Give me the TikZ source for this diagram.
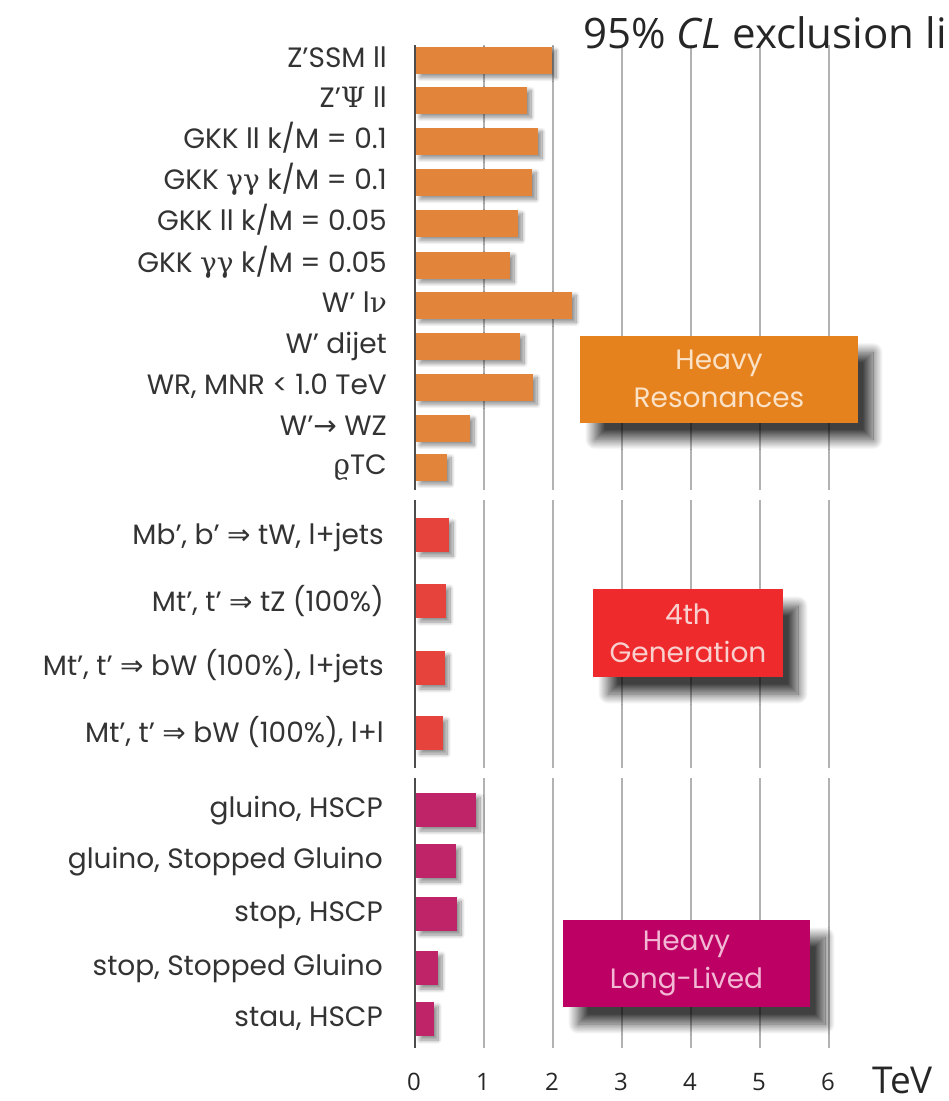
\documentclass[tikz,border=0pt]{standalone}
\usepackage{fontspec}
\setmainfont{Poppins}
\newfontfamily\grk{DejaVu Serif}
\newfontfamily\sym{DejaVu Sans}
\newfontfamily\ttlfont{Open Sans}
\usetikzlibrary{shadows.blur}
\definecolor{labgray}{HTML}{333333}
\definecolor{orbar}{HTML}{E2853A}
\definecolor{rdbar}{HTML}{E6433C}
\definecolor{mgbar}{HTML}{C02468}
\definecolor{orbox}{HTML}{E5821E}
\definecolor{rdbox}{HTML}{EE2A2C}
\definecolor{mgbox}{HTML}{BD0064}
\definecolor{ortxt}{HTML}{FBE2C6}
\definecolor{rdtxt}{HTML}{FAD0CF}
\definecolor{mgtxt}{HTML}{F2B8D4}
\tikzset{
  gridln/.style={draw=black!30, line width=1.4pt},
  axisln/.style={draw=black!70, line width=2pt},
  lab/.style={anchor=east, text=labgray, font=\fontsize{28}{30}\selectfont, inner sep=0pt, text height=20pt, text depth=6pt},
  barshadow/.style={blur shadow={shadow xshift=4pt, shadow yshift=-4pt, shadow blur radius=4pt, shadow blur steps=12, shadow opacity=45}},
  legbox/.style={rectangle, inner sep=0pt, align=center, font=\fontsize{28}{38}\selectfont,
     blur shadow={shadow xshift=15pt, shadow yshift=-17pt, shadow blur radius=10pt, shadow blur steps=25, shadow opacity=75}},
  tick/.style={font=\ttlfont\fontsize{24}{26}\selectfont, text=black!85, inner sep=0pt}
}
\begin{document}
\begin{tikzpicture}[x=1pt,y=-1pt]
\useasboundingbox (0,0) rectangle (949,1101);
\clip (0,0) rectangle (949,1101);
% grid lines
\foreach \k in {1,...,6}{
  \draw[gridln] ({415+69*\k},45) -- ({415+69*\k},490);
  \draw[gridln] ({415+69*\k},500) -- ({415+69*\k},768);
  \draw[gridln] ({415+69*\k},778) -- ({415+69*\k},1048);
}
% title
\node[anchor=base west, inner sep=0pt, font=\ttlfont\fontsize{42}{44}\selectfont, text=black!85] (title) at (583,48) {95\% \textit{CL} exclusion limits};
% section 1 bars and labels
\foreach \yy/\xe/\nm/\tx in {
  60/552/a1/{Z'SSM ll},
  100/527/a2/{Z'{\grk Ψ} ll},
  141/538/a3/{GKK ll k/M = 0.1},
  182/532/a4/{GKK {\grk γγ} k/M = 0.1},
  223/518/a5/{GKK ll k/M = 0.05},
  265/510/a6/{GKK {\grk γγ} k/M = 0.05},
  305/572/a7/{W' l{\grk ν}},
  346/520/a8/{W' dijet},
  387/533/a9/{WR, MNR < 1.0 TeV},
  428/470/a10/{W'{\sym →} WZ},
  467/447/a11/{{\grk ϱ}TC}}{
  \fill[orbar, barshadow] (416,\yy-13.5) rectangle (\xe,\yy+13.5);
  \node[lab] (\nm) at (387,\yy) {\tx};
}
% section 2
\foreach \yy/\ly/\xe/\nm/\tx in {
  535/537/449/b1/{Mb', b' {\sym ⇒} tW, l+jets},
  601/604/446/b2/{Mt', t' {\sym ⇒} tZ (100\%)},
  668/668/445/b3/{Mt', t' {\sym ⇒} bW (100\%), l+jets},
  733/735/443/b4/{Mt', t' {\sym ⇒} bW (100\%), l+l}}{
  \fill[rdbar, barshadow] (416,\yy-17) rectangle (\xe,\yy+17);
  \node[lab] (\nm) at (384,\ly) {\tx};
}
% section 3
\foreach \yy/\xe/\nm/\tx in {
  810/476/c1/{gluino, HSCP},
  861/456/c2/{gluino, Stopped Gluino},
  914/457/c3/{stop, HSCP},
  968/438/c4/{stop, Stopped Gluino},
  1019/434/c5/{stau, HSCP}}{
  \fill[mgbar, barshadow] (416,\yy-17) rectangle (\xe,\yy+17);
  \node[lab] (\nm) at (383,\yy) {\tx};
}
% axis lines
\draw[axisln] (415,45) -- (415,490);
\draw[axisln] (415,500) -- (415,768);
\draw[axisln] (415,778) -- (415,1048);
% legend boxes
\node[legbox, fill=orbox, text=ortxt, minimum width=278pt, minimum height=87pt] (lg1) at (719,379) {Heavy\\Resonances};
\node[legbox, fill=rdbox, text=rdtxt, minimum width=190pt, minimum height=88pt] (lg2) at (688,633) {4th\\Generation};
\node[legbox, fill=mgbox, text=mgtxt, minimum width=247pt, minimum height=87pt] (lg3) at (686.5,963.5) {Heavy\\Long-Lived};
% tick labels
\foreach \k in {0,...,6}{
  \node[tick] (t\k) at ({414+69*\k},1082) {\k};
}
\node[tick, font=\ttlfont\fontsize{37}{40}\selectfont, anchor=west] (tev) at (872,1080) {TeV};
\end{tikzpicture}
\end{document}
